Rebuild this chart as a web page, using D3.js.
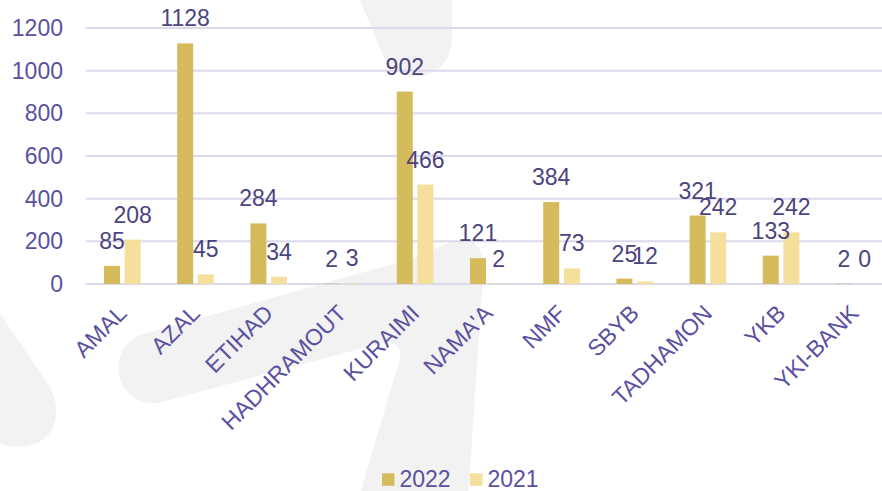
<!DOCTYPE html>
<html>
<head>
<meta charset="utf-8">
<script src="https://cdn.jsdelivr.net/npm/d3@7"></script>
<style>
    body { margin: 0; background: #ffffff; }
    text { font-family: "Liberation Sans", Arial, sans-serif; }
</style>
</head>
<body>
<script>
let banks = ["AMAL", "AZAL", "ETIHAD", "HADHRAMOUT", "KURAIMI", "NAMA'A", "NMF", "SBYB", "TADHAMON", "YKB", "YKI-BANK"];
let years = ["2022", "2021"];
let values2022 = [85, 1128, 284, 2, 902, 121, 384, 25, 321, 133, 2];
let values2021 = [208, 45, 34, 3, 466, 2, 73, 12, 242, 242, 0];
let yTicks = [0, 200, 400, 600, 800, 1000, 1200];

function drawChart() {
    var svg = d3.select('body').append('svg')
        .attr('width', 882)
        .attr('height', 491);

    // faint logo shapes behind the chart
    let bg = svg.append('g').attr('fill', '#f2f2f2');
    bg.append('path')
        .attr('d', 'M 358 -5 L 384 58 C 396 84, 448 86, 452 40 L 452 -5 Z');
    bg.append('path')
        .attr('d', 'M -5 306 L 45 380 C 60 400, 60 425, 45 438 C 35 447, 15 450, -5 442 Z');
    bg.append('path')
        .attr('d', 'M 140 335 L 400 262 C 440 250, 455 236, 470 240 C 485 246, 485 270, 482 290 '
            + 'L 468 500 L 358 500 L 398 365 C 405 348, 395 340, 378 344 L 158 403 '
            + 'A 35.5 35.5 0 0 1 140 335 Z');

    var yScale = d3.scaleLinear()
        .domain([0, 1200])
        .range([284, 28]);

    var xScale = d3.scaleBand()
        .domain(banks)
        .range([85.7, 890.9])
        .paddingInner(0.5)
        .paddingOuter(0.25);

    var subScale = d3.scaleBand()
        .domain(years)
        .range([0, xScale.bandwidth()])
        .paddingInner(0.223);

    var colors = { "2022": "#d6bb5c", "2021": "#f5df9c" };

    // grid lines
    svg.append('g')
        .attr('class', 'grid')
        .selectAll('line')
        .data(yTicks)
        .enter().append('line')
        .attr('x1', 85.7)
        .attr('x2', 890.9)
        .attr('y1', d => yScale(d))
        .attr('y2', d => yScale(d))
        .attr('stroke', '#dcd9ec')
        .attr('stroke-width', 2);

    // y axis labels, axis line hidden
    var yAxis = d3.axisLeft(yScale)
        .tickValues(yTicks)
        .tickFormat(d3.format('d'))
        .tickSize(0)
        .tickPadding(0);
    let yg = svg.append('g')
        .attr('class', 'y axis')
        .attr('transform', 'translate(63, 0)')
        .call(yAxis);
    yg.select('.domain').remove();
    yg.selectAll('text')
        .attr('fill', '#5a51a1')
        .style('font-size', '23px')
        .style('font-family', '"Liberation Sans", Arial, sans-serif');

    // x axis labels rotated
    var xAxis = d3.axisBottom(xScale).tickSize(0).tickPadding(0);
    let xg = svg.append('g')
        .attr('class', 'x axis')
        .attr('transform', 'translate(0, 309)')
        .call(xAxis);
    xg.select('.domain').remove();
    xg.selectAll('text')
        .attr('fill', '#5a51a1')
        .style('font-size', '23px')
        .style('font-family', '"Liberation Sans", Arial, sans-serif')
        .attr('text-anchor', 'end')
        .attr('y', 0)
        .attr('dy', '0.35em')
        .attr('transform', 'rotate(-45)');

    let series = { "2022": values2022, "2021": values2021 };
    let groups = svg.append('g').attr('class', 'bars');
    for (let s = 0; s < years.length; ++s) {
        let yr = years[s];
        let vals = series[yr];
        for (let i = 0; i < banks.length; ++i) {
            let x = xScale(banks[i]) + subScale(yr);
            let v = vals[i];
            groups.append('rect')
                .attr('fill', colors[yr])
                .attr('x', x)
                .attr('y', yScale(v))
                .attr('width', subScale.bandwidth())
                .attr('height', yScale(0) - yScale(v));
        }
    }

    // value labels above bars
    let labels = svg.append('g').attr('class', 'labels');
    for (let s = 0; s < years.length; ++s) {
        let yr = years[s];
        let vals = series[yr];
        for (let i = 0; i < banks.length; ++i) {
            let x = xScale(banks[i]) + subScale(yr) + subScale.bandwidth() / 2;
            labels.append('text')
                .attr('x', x)
                .attr('y', yScale(vals[i]) - 17)
                .attr('text-anchor', 'middle')
                .attr('fill', '#4a447f')
                .style('font-size', '23px')
                .text(vals[i]);
        }
    }

    // legend
    let legendX = [382, 470];
    let legend = svg.append('g').attr('class', 'legend');
    for (let s = 0; s < years.length; ++s) {
        legend.append('rect')
            .attr('x', legendX[s])
            .attr('y', 473.3)
            .attr('width', 12.5)
            .attr('height', 12.5)
            .attr('fill', colors[years[s]]);
        legend.append('text')
            .attr('x', legendX[s] + 17.5)
            .attr('y', 487)
            .attr('fill', '#5a51a1')
            .style('font-size', '23px')
            .text(years[s]);
    }
}

drawChart();
</script>
</body>
</html>
